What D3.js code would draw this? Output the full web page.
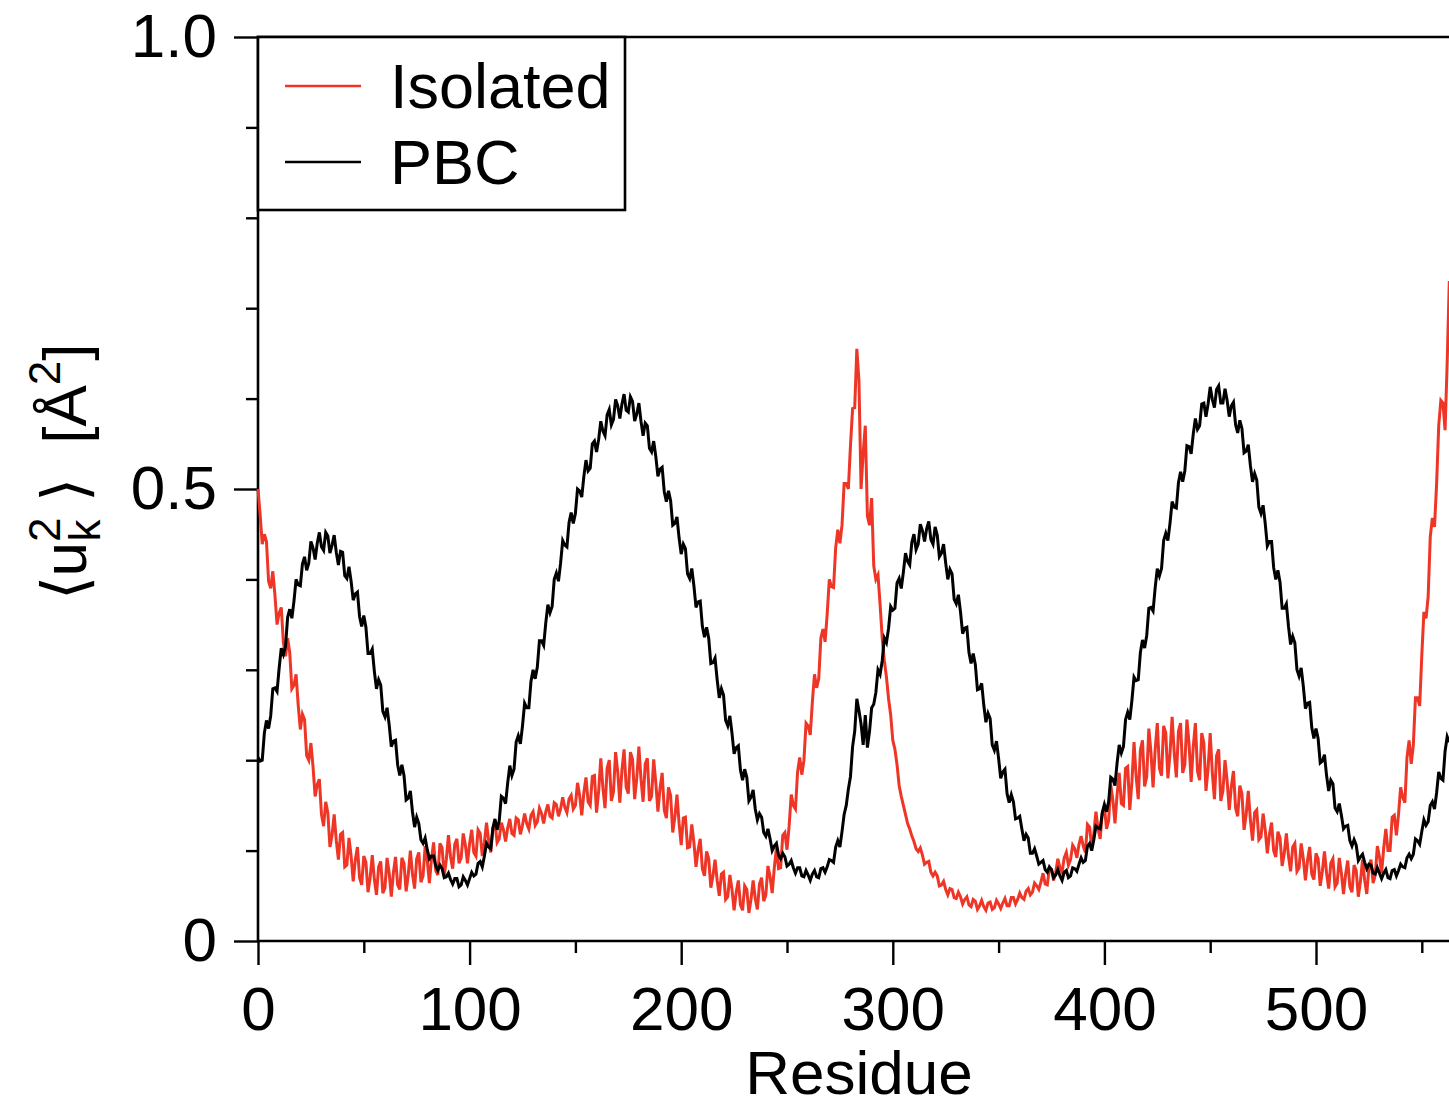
<!DOCTYPE html>
<html lang="en">
<head>
<meta charset="utf-8">
<title>Residue fluctuations</title>
<style>
  body { margin: 0; background: #fff; }
  svg { display: block; font-family: 'Liberation Sans', Arial, Helvetica, sans-serif; }
  .axis path { display: none; }
  .axis line { stroke: #000; stroke-width: 2.4; }
  .axis text { font-size: 62px; fill: #000; font-family: 'Liberation Sans', Arial, sans-serif; }
  .frame { stroke: #000; stroke-width: 2.6; fill: none; }
</style>
</head>
<body>
<svg id="chart" width="1449" height="1109"></svg>
<script src="https://cdnjs.cloudflare.com/ajax/libs/d3/7.8.5/d3.min.js"></script>
<script>
// values, in units of 1e-3 A^2, one per residue (0..563)
var isolated = [
  500,472,439,450,442,398,390,409,383,350,
  363,369,330,315,335,319,279,283,295,261,
  234,251,245,205,200,219,193,160,173,179,
  140,127,154,142,104,117,140,111,90,118,
  120,82,84,114,94,66,90,104,70,62,
  94,87,54,70,95,68,51,82,88,53,
  59,92,75,49,76,93,62,57,92,86,
  55,73,100,74,58,91,98,65,72,105,
  89,64,91,109,78,73,108,103,72,90,
  117,93,80,107,113,86,92,119,106,86,
  108,123,98,94,123,119,94,109,131,111,
  98,125,131,109,113,131,123,110,125,135,
  119,117,136,134,118,128,141,130,124,139,
  143,128,132,147,141,130,143,151,138,136,
  153,151,138,146,159,148,142,157,161,146,
  150,175,161,139,164,181,154,150,182,183,
  142,166,202,169,147,191,200,155,165,209,
  187,153,189,212,170,163,209,201,157,180,
  215,179,154,196,202,155,160,201,175,143,
  169,186,145,136,170,161,120,137,162,130,
  106,136,137,103,104,129,109,82,101,113,
  80,72,99,91,59,72,90,67,50,74,
  76,46,49,73,57,34,54,67,40,34,
  61,57,31,46,67,47,35,63,70,44,
  51,83,71,53,81,103,80,81,117,120,
  101,127,162,150,146,187,203,184,200,241,
  238,228,265,295,280,290,335,345,331,362,
  400,392,391,435,455,440,460,506,506,500,
  548,589,590,655,620,500,540,570,470,460,
  490,415,400,405,372,335,310,292,268,250,
  222,212,195,172,160,150,140,130,124,116,
  110,102,99,103,95,85,87,88,76,72,
  76,72,61,62,66,57,51,58,57,48,
  47,54,49,41,46,49,40,38,46,44,
  35,39,45,38,34,42,43,35,37,45,
  41,36,42,47,39,39,48,48,41,46,
  53,48,46,55,58,51,54,64,61,57,
  65,75,63,62,80,79,67,76,91,81,
  76,92,98,84,90,106,102,92,107,116,
  105,98,129,126,103,119,143,124,113,141,
  149,124,133,173,156,130,162,186,152,150,
  191,193,145,176,220,182,157,211,222,171,
  182,235,209,170,212,241,191,183,238,230,
  180,207,248,208,181,232,241,186,195,245,
  218,176,215,241,188,178,230,219,166,191,
  230,186,157,205,212,155,166,200,177,145,
  171,188,147,138,172,163,123,140,166,134,
  111,142,145,112,115,141,123,97,118,131,
  100,93,121,114,83,97,119,94,77,104,
  108,77,81,108,91,67,89,104,74,68,
  97,91,61,77,99,75,58,86,91,60,
  64,92,75,52,74,89,60,54,84,78,
  49,66,90,67,52,82,90,64,73,105,
  93,75,103,124,100,100,137,139,117,140,
  170,159,153,203,222,196,217,269,269,260,
  316,364,357,381,447,468,458,506,570,598,
  595,565,640,730
];

var pbc = [
  203,199,200,230,244,235,249,279,280,276,
  302,324,317,326,358,367,357,376,400,394,
  393,417,425,410,418,442,435,422,440,452,
  436,432,452,448,429,438,449,430,416,431,
  430,404,401,414,398,377,384,386,359,348,
  360,347,318,318,323,298,279,289,283,254,
  248,258,239,215,221,222,195,183,195,183,
  156,158,166,143,126,137,130,112,108,114,
  101,91,94,94,83,78,84,80,70,71,
  75,68,63,69,69,60,62,71,67,62,
  69,76,72,74,86,88,82,94,108,104,
  102,125,135,123,133,160,158,152,175,194,
  183,190,220,227,218,238,263,258,258,287,
  300,290,303,332,332,327,352,372,363,370,
  400,407,398,418,443,438,436,463,474,462,
  473,500,498,491,514,532,520,523,550,553,
  541,555,575,564,559,582,588,571,577,599,
  592,578,594,605,587,585,602,597,575,583,
  595,575,559,573,570,545,541,553,536,514,
  522,524,497,486,498,487,460,462,469,446,
  428,439,434,406,401,412,393,369,375,376,
  348,336,347,335,307,308,313,289,269,279,
  272,244,238,249,230,207,214,216,189,178,
  190,181,155,159,167,146,134,141,137,120,
  116,124,113,100,105,108,95,91,97,93,
  83,85,89,81,75,81,81,72,71,78,
  73,67,74,78,71,70,80,81,76,82,
  90,89,87,104,111,104,121,140,150,168,
  182,215,232,268,255,240,217,250,214,232,
  258,262,275,300,295,310,335,330,346,370,
  366,368,396,401,390,408,429,420,416,441,
  450,433,439,461,454,442,456,464,444,439,
  458,449,425,429,439,418,400,411,406,378,
  373,383,364,340,346,347,319,307,318,306,
  278,279,285,261,242,252,246,217,211,221,
  202,180,187,190,163,153,162,154,135,136,
  138,124,111,118,114,97,97,102,94,85,
  87,89,79,76,82,79,70,73,79,72,
  67,76,78,70,72,81,80,77,85,92,
  87,89,105,108,100,112,127,125,124,142,
  151,143,154,181,179,172,197,217,208,215,
  245,253,245,266,292,288,289,319,333,324,
  338,368,369,365,391,412,404,412,443,451,
  443,462,486,480,479,507,519,508,520,548,
  547,539,561,578,566,570,594,595,580,594,
  613,599,590,610,614,595,595,611,598,580,
  592,596,571,562,576,567,540,542,549,526,
  508,517,510,480,473,482,462,437,442,442,
  413,400,410,397,368,368,373,348,328,337,
  330,300,293,302,282,257,263,264,236,224,
  235,224,197,199,206,183,166,178,174,147,
  143,152,139,124,127,128,111,105,112,106,
  89,93,96,87,80,85,84,75,74,81,
  75,69,75,79,70,69,78,79,72,78,
  85,82,81,92,96,91,96,113,111,107,
  121,134,128,132,150,154,146,164,187,180,
  178,210,226,220
];

var xMajor = [0, 100, 200, 300, 400, 500];
var xMinor = [50, 150, 250, 350, 450, 550];
var yMajor = [0, 0.5, 1.0];
var yMinor = [0.1, 0.2, 0.3, 0.4, 0.6, 0.7, 0.8, 0.9];
var yLabels = ['0', '0.5', '1.0'];
var seriesNames = ['Isolated', 'PBC'];
var seriesColors = ['#ee3526', '#000000'];

var svg = d3.select('#chart');
svg.append('rect').attr('width', 1449).attr('height', 1109).attr('fill', '#fff');

var x = d3.scaleLinear().domain([0, 600]).range([258, 1527.6]);
var y = d3.scaleLinear().domain([0, 1]).range([941, 37]);

// minor ticks first, majors on top
svg.append('g').attr('class', 'axis').attr('transform', 'translate(0,941)')
  .call(d3.axisBottom(x).tickValues(xMinor).tickSize(12).tickFormat(''));
svg.append('g').attr('class', 'axis').attr('transform', 'translate(0,941)')
  .call(d3.axisBottom(x).tickValues(xMajor).tickSize(24).tickPadding(21).tickFormat(d3.format('d')));
svg.append('g').attr('class', 'axis').attr('transform', 'translate(258,0)')
  .call(d3.axisLeft(y).tickValues(yMinor).tickSize(12).tickFormat(''));
svg.append('g').attr('class', 'axis').attr('transform', 'translate(258,0)')
  .call(d3.axisLeft(y).tickValues(yMajor).tickSize(24).tickPadding(17)
    .tickFormat(function (d, i) { return yLabels[i]; }));

// frame: top, left, bottom
svg.append('path').attr('class', 'frame')
  .attr('d', 'M1449,37H' + x(0) + 'V' + y(0) + 'H1449');

var line = d3.line()
  .x(function (d, i) { return x(i); })
  .y(function (d) { return y(d / 1000); });

[isolated, pbc].forEach(function (s, k) {
  svg.append('path')
    .attr('d', line(s))
    .attr('fill', 'none')
    .attr('stroke', seriesColors[k])
    .attr('stroke-width', 3)
    .attr('stroke-linejoin', 'miter');
});

// legend
var lg = svg.append('g');
lg.append('rect').attr('x', 258).attr('y', 37).attr('width', 367).attr('height', 173)
  .attr('fill', '#fff').attr('stroke', '#000').attr('stroke-width', 2.6);
seriesNames.forEach(function (name, i) {
  var yy = 86 + i * 76;
  lg.append('line').attr('x1', 285).attr('x2', 361).attr('y1', yy).attr('y2', yy)
    .attr('stroke', seriesColors[i]).attr('stroke-width', 2.6);
  lg.append('text').attr('x', 390).attr('y', yy + 22).attr('font-size', 63).text(name);
});

// axis titles
svg.append('text').attr('x', 859).attr('y', 1094).attr('text-anchor', 'middle')
  .attr('font-size', 62).text('Residue');

var yt = svg.append('text')
  .attr('transform', 'translate(86,472) rotate(-90)')
  .attr('text-anchor', 'middle')
  .attr('font-size', 62)
  .style('white-space', 'pre');
yt.append('tspan').text('\u27E8u');
yt.append('tspan').attr('font-size', 44).attr('dy', -26).text('2');
yt.append('tspan').attr('font-size', 44).attr('dx', -24).attr('dy', 40).text('k');
yt.append('tspan').attr('dy', -14).text(' \u27E9  [\u00C5');
yt.append('tspan').attr('font-size', 44).attr('dy', -26).text('2');
yt.append('tspan').attr('dy', 26).text(']');
</script>
</body>
</html>
